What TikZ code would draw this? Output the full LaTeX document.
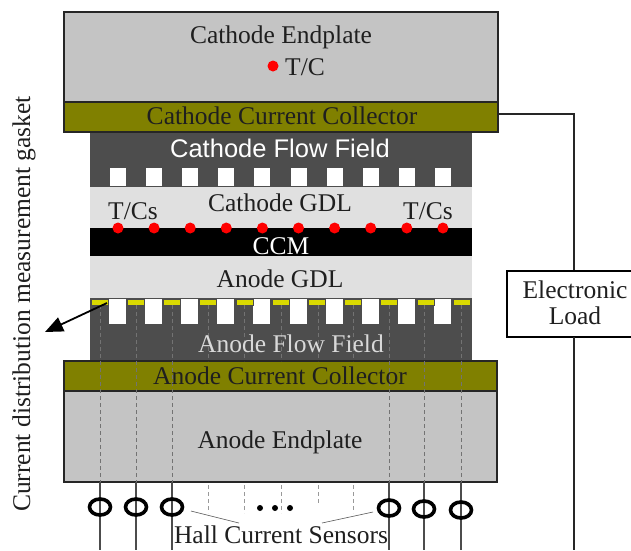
\documentclass[tikz,border=0pt]{standalone}
\usepackage{fontspec}
\setmainfont{Liberation Serif}
\newfontfamily\flowsans{Liberation Sans}
\usetikzlibrary{arrows.meta,shapes.geometric}
\definecolor{plateg}{HTML}{C4C4C4}
\definecolor{oliveg}{HTML}{808000}
\definecolor{flowg}{HTML}{4D4D4D}
\definecolor{gdlg}{HTML}{E0E0E0}
\definecolor{stripy}{HTML}{D8D800}
\begin{document}
\begin{tikzpicture}[x=1pt,y=-1pt,
  platebox/.style={draw=black!85,line width=1.8pt,fill=plateg},
  colbox/.style={draw=black!85,line width=1.8pt,fill=oliveg},
  flowbox/.style={fill=flowg},
  gdlbox/.style={fill=gdlg},
  lab/.style={font=\fontsize{25.5}{27}\selectfont,text=black!88,inner sep=0pt},
  wlab/.style={font=\fontsize{25.5}{27}\selectfont,text=white,inner sep=0pt},
  reddot/.style={circle,fill=red,inner sep=0pt,minimum size=11pt},
  wire/.style={line width=1.8pt,draw=black!70},
  dashwire/.style={line width=0.7pt,dash pattern=on 4pt off 3pt,draw=black!55},
  faintdash/.style={line width=0.7pt,dash pattern=on 4pt off 3pt,draw=black!40},
  ring/.style={draw=black,line width=3.6pt,ellipse,inner sep=0pt,minimum width=21pt,minimum height=16pt},
]
\useasboundingbox (0,0) rectangle (631,550);
\fill[white] (0,0) rectangle (631,550);
% layers
\path[flowbox] (90,133) rectangle (472,187);
\path[gdlbox] (90,187) rectangle (472,228);
\fill[black] (90,228) rectangle (472,256);
\path[gdlbox] (90,256) rectangle (472,298);
\path[flowbox] (90,298) rectangle (472,361);
\draw[platebox] (64,12) rectangle (498,102);
\draw[colbox] (64,102) rectangle (498,132);
\draw[colbox] (64,361) rectangle (497,391);
\draw[platebox] (64,391) rectangle (497,482);
% channels
\foreach \i in {0,...,9}{
  \fill[white] ({110+36.1*\i},168) rectangle ({126+36.1*\i},186);
  \fill[white] ({109+36.1*\i},299) rectangle ({126+36.1*\i},324);
}
\foreach \i in {0,...,10}{
  \fill[stripy,draw=black!70,line width=0.5pt] ({91+36.2*\i},299) rectangle ({108+36.2*\i},305);
}
% dashed lines in the stack
\foreach \x in {208,244,281,318,353}{
  \draw[dashwire] (\x,305) -- (\x,361);
}
\foreach \x in {100,136,172,389,424,461}{
  \draw[dashwire] (\x,305) -- (\x,482);
  \draw[wire] (\x,482) -- (\x,550);
}
\foreach \x in {208,244,281,353}{
  \draw[faintdash] (\x,485) -- (\x,513);
}
\draw[faintdash] (318,485) -- (318,505);
% sensors
\node[ring] (s1) at (100,507) {};
\node[ring] (s2) at (136,507) {};
\node[ring] (s3) at (172,507) {};
\node[ring] (s4) at (389,508) {};
\node[ring] (s5) at (424,509) {};
\node[ring] (s6) at (461,510) {};
\foreach \x in {260,275,290}{\fill[black] (\x,508) circle (3pt);}
% text
\node[lab] (ce) at (281,37) {Cathode Endplate};
\node[reddot] (tc) at (273,66) {};
\node[lab,anchor=west] (tct) at (285,67) {T/C};
\node[lab] (ccc) at (282,116) {Cathode Current Collector};
\node[wlab,font=\flowsans\fontsize{25.5}{27}\selectfont] (cff) at (280,148) {Cathode Flow Field};
\node[lab] (cg) at (280,203) {Cathode GDL};
\node[lab] (tl) at (133,211) {T/Cs};
\node[lab] (tr) at (428,211) {T/Cs};
\node[wlab] (ccm) at (281,246) {CCM};
\node[lab] (ag) at (280,279) {Anode GDL};
\node[wlab,text=white!85!black] (aff) at (291,344) {Anode Flow Field};
\node[lab] (acc) at (280,376) {Anode Current Collector};
\node[lab] (ae) at (280,442) {Anode Endplate};
\node[lab] (hall) at (281,535) {Hall Current Sensors};
\node[lab,rotate=90] (gasket) at (24,304) {Current distribution measurement gasket};
\foreach \i in {0,...,9}{
  \node[reddot] (d\i) at ({118+36.1*\i},228) {};
}
% load
\node[draw=black,line width=1.8pt,fill=white,minimum width=134pt,minimum height=66pt,inner sep=0pt,anchor=north west] (load) at (506,270) {};
\node[lab,align=center,font=\fontsize{25.5}{26}\selectfont] (loadt) at (575,303) {Electronic\\Load};
\coordinate (cor) at (574,114);
\coordinate (ccout) at (498,114);
\coordinate (loadbot) at (574,337);
\coordinate (bot) at (574,550);
\coordinate (loadtop) at (574,270);
\draw[line width=1.8pt,draw=black!85] (ccout) -- (cor) -- (loadtop);
\draw[line width=1.8pt,draw=black!85] (loadbot) -- (bot);
% arrow and leaders
\coordinate (a1) at (107,303);
\coordinate (a2) at (45,332);
\draw[line width=1.8pt,-{Triangle[length=18pt,width=15pt]}] (a1) -- (a2);
\coordinate (h1) at (191,511);
\coordinate (h2) at (239,523);
\coordinate (h3) at (373,512);
\coordinate (h4) at (322,523);
\draw[line width=0.6pt,draw=black!65] (h1) -- (h2);
\draw[line width=0.6pt,draw=black!65] (h3) -- (h4);
\end{tikzpicture}
\end{document}
